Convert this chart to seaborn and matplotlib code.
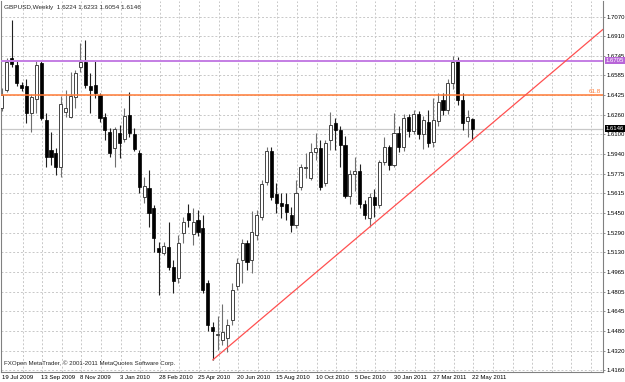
import numpy as np
import pandas as pd
import matplotlib
matplotlib.use('Agg')
import matplotlib.pyplot as plt
import seaborn as sns
from matplotlib.transforms import blended_transform_factory

# weekly GBPUSD candles, 19 Jul 2009 .. 22 May 2011
opens = [1.6320, 1.6465, 1.6728, 1.6671, 1.6506, 1.6498, 1.6276, 1.6391, 1.6687, 1.6218,
         1.5971, 1.5947, 1.5831, 1.6284, 1.6243, 1.6407, 1.6655, 1.6696, 1.6498, 1.6506,
         1.6424, 1.6243, 1.6120, 1.5988, 1.6111, 1.6062, 1.6259, 1.6103, 1.5947, 1.5585,
         1.5659, 1.5494, 1.5165, 1.5123, 1.5173, 1.5008, 1.4918, 1.5289, 1.5453, 1.5280,
         1.5395, 1.5330, 1.4877, 1.4514, 1.4450, 1.4407, 1.4424, 1.4572, 1.4852, 1.5066,
         1.5206, 1.5066, 1.5272, 1.5420, 1.5708, 1.5963, 1.5609, 1.5535, 1.5527, 1.5437,
         1.5354, 1.5667, 1.5825, 1.5741, 1.5955, 1.5988, 1.5700, 1.6054, 1.6193, 1.6136,
         1.6010, 1.5590, 1.5770, 1.5800, 1.5530, 1.5412, 1.5585, 1.5519, 1.5872, 1.5996,
         1.5848, 1.6111, 1.6000, 1.6240, 1.6130, 1.6270, 1.6100, 1.6200, 1.6040, 1.6210,
         1.6383, 1.6300, 1.6523, 1.6712, 1.6383, 1.6210, 1.6224]
highs = [1.6480, 1.6728, 1.7041, 1.6700, 1.6530, 1.6560, 1.6430, 1.6700, 1.6704, 1.6276,
         1.6120, 1.5988, 1.6420, 1.6465, 1.6613, 1.6630, 1.6852, 1.6877, 1.6605, 1.6700,
         1.6440, 1.6276, 1.6153, 1.6161, 1.6177, 1.6317, 1.6449, 1.6152, 1.5971, 1.5749,
         1.5807, 1.5519, 1.5214, 1.5214, 1.5379, 1.5066, 1.5272, 1.5420, 1.5527, 1.5494,
         1.5478, 1.5437, 1.4900, 1.4556, 1.4605, 1.4700, 1.4580, 1.4877, 1.5082, 1.5239,
         1.5231, 1.5469, 1.5478, 1.5724, 1.5996, 1.5996, 1.5700, 1.5617, 1.5617, 1.5502,
         1.5724, 1.5856, 1.5947, 1.6029, 1.6111, 1.6054, 1.6054, 1.6284, 1.6235, 1.6170,
         1.6090, 1.5810, 1.5910, 1.5860, 1.5560, 1.5620, 1.5650, 1.5889, 1.6078, 1.6012,
         1.6276, 1.6170, 1.6270, 1.6270, 1.6300, 1.6290, 1.6250, 1.6300, 1.6400, 1.6440,
         1.6440, 1.6560, 1.6746, 1.6740, 1.6440, 1.6300, 1.6233]
lows = [1.6290, 1.6449, 1.6655, 1.6500, 1.6460, 1.6193, 1.6120, 1.6280, 1.6218, 1.5831,
        1.5848, 1.5766, 1.5750, 1.6243, 1.6235, 1.6317, 1.6613, 1.6482, 1.6276, 1.6400,
        1.6202, 1.6054, 1.5914, 1.5831, 1.5906, 1.6037, 1.6078, 1.5963, 1.5617, 1.5535,
        1.5338, 1.5132, 1.4778, 1.5107, 1.4984, 1.4794, 1.4877, 1.5206, 1.5338, 1.5190,
        1.5264, 1.4794, 1.4480, 1.4243, 1.4325, 1.4366, 1.4308, 1.4531, 1.4819, 1.4877,
        1.4984, 1.4959, 1.5231, 1.5395, 1.5683, 1.5560, 1.5453, 1.5412, 1.5395, 1.5297,
        1.5330, 1.5642, 1.5741, 1.5724, 1.5889, 1.5642, 1.5675, 1.5971, 1.5971, 1.5830,
        1.5580, 1.5530, 1.5630, 1.5490, 1.5400, 1.5338, 1.5420, 1.5494, 1.5848, 1.5807,
        1.5830, 1.5955, 1.5960, 1.6080, 1.6100, 1.6060, 1.5980, 1.6000, 1.6000, 1.6170,
        1.6260, 1.6270, 1.6470, 1.6340, 1.6136, 1.6078, 1.6054]
closes = [1.6424, 1.6696, 1.6680, 1.6523, 1.6482, 1.6276, 1.6407, 1.6671, 1.6235, 1.5914,
          1.5914, 1.5831, 1.6350, 1.6317, 1.6416, 1.6605, 1.6696, 1.6506, 1.6465, 1.6440,
          1.6235, 1.6136, 1.5947, 1.6144, 1.6029, 1.6251, 1.6111, 1.5980, 1.5667, 1.5675,
          1.5453, 1.5247, 1.5132, 1.5181, 1.5008, 1.4893, 1.5206, 1.5379, 1.5395, 1.5379,
          1.5297, 1.4819, 1.4531, 1.4481, 1.4460, 1.4473, 1.4531, 1.4819, 1.5041, 1.5206,
          1.5049, 1.5297, 1.5437, 1.5692, 1.5963, 1.5585, 1.5535, 1.5510, 1.5461, 1.5354,
          1.5617, 1.5831, 1.5831, 1.5955, 1.5988, 1.5667, 1.6029, 1.6177, 1.6136, 1.6010,
          1.5590, 1.5770, 1.5800, 1.5530, 1.5437, 1.5585, 1.5519, 1.5872, 1.5996, 1.5848,
          1.6111, 1.6000, 1.6235, 1.6130, 1.6270, 1.6100, 1.6220, 1.6030, 1.6218, 1.6366,
          1.6300, 1.6523, 1.6696, 1.6383, 1.6193, 1.6243, 1.6146]

date_labels = ['19 Jul 2009', '13 Sep 2009', '8 Nov 2009', '3 Jan 2010', '28 Feb 2010',
               '25 Apr 2010', '20 Jun 2010', '15 Aug 2010', '10 Oct 2010', '5 Dec 2010',
               '30 Jan 2011', '27 Mar 2011', '22 May 2011']
price_ticks = [1.7070, 1.6910, 1.6745, 1.6585, 1.6425, 1.6260, 1.6100, 1.5940, 1.5775,
               1.5615, 1.5450, 1.5290, 1.5130, 1.4965, 1.4805, 1.4645, 1.4480, 1.4320, 1.4160]
resistance = 1.6705
fib_618 = 1.6423
trend_from, trend_to = 43, 96   # bars whose lows the trend line joins

df = pd.DataFrame({'open': opens, 'high': highs, 'low': lows, 'close': closes})
df['bar'] = np.arange(len(df))
up = df['close'] >= df['open']

sns.set_style('white')
plt.rcParams['font.family'] = ['Liberation Sans', 'DejaVu Sans']

fig = plt.figure(figsize=(6.25, 3.82), dpi=100)
ax = fig.add_axes([1 / 625, 10 / 382, 602 / 625, 371 / 382])
ax.set_xlim(-0.2, 122.65)
ax.set_ylim(1.4144, 1.7198)

# dashed grid
grid_kw = dict(color='#c8c8c8', lw=0.7, linestyles=(0, (2, 2)), zorder=1)
ax.hlines(price_ticks, -0.2, 122.65, **grid_kw)
ax.vlines(np.arange(4, 123, 4) + 0.2, 1.4144, 1.7198, **grid_kw)

# bid line
ax.axhline(closes[-1], color='#c8c8c8', lw=0.9, zorder=2)

# candles
ax.vlines(df['bar'][up], df['low'][up], df['high'][up], color='#707070', lw=0.8, zorder=3)
ax.vlines(df['bar'][~up], df['low'][~up], df['high'][~up], color='#202020', lw=0.8, zorder=3)
ax.bar(df['bar'][up], (df['close'] - df['open'])[up], bottom=df['open'][up], width=0.62,
       color='white', edgecolor='#444444', linewidth=0.7, zorder=4)
ax.bar(df['bar'][~up], (df['open'] - df['close'])[~up], bottom=df['close'][~up], width=0.62,
       color='black', edgecolor='black', linewidth=0.5, zorder=4)

# horizontal levels
ax.axhline(resistance, color='#c47ee4', lw=1.4, zorder=5)
ax.axhline(fib_618, color='#ff7a36', lw=1.1, zorder=5)
ax.text(0.997, fib_618 + 0.0008, '61.8', transform=blended_transform_factory(ax.transAxes, ax.transData),
        ha='right', va='bottom', fontsize=4.5, color='#ff7a36', zorder=6)

# trend line through the two lows, extended to the right edge
slope = (lows[trend_to] - lows[trend_from]) / (trend_to - trend_from)
x_end = ax.get_xlim()[1]
trend = pd.DataFrame({'x': [trend_from, x_end],
                      'y': [lows[trend_from], lows[trend_from] + slope * (x_end - trend_from)]})
sns.lineplot(data=trend, x='x', y='y', ax=ax, color='#ff5050', lw=0.9, zorder=6)

# axes
ax.yaxis.tick_right()
ax.set_yticks(price_ticks)
ax.set_yticklabels([f'{v:.4f}' for v in price_ticks])
ax.set_xticks(np.arange(0, len(df), 8))
ax.set_xticklabels(date_labels, ha='left')
ax.tick_params(axis='both', labelsize=4.3, length=1.5, width=0.6, color='#808080',
               labelcolor='black', pad=0.8)
ax.set_xlabel('')
ax.set_ylabel('')
for side in ['left', 'right', 'bottom']:
    ax.spines[side].set_color('#808080')
    ax.spines[side].set_linewidth(0.8)
ax.spines['top'].set_visible(False)

# price boxes on the scale
trans = blended_transform_factory(ax.transAxes, ax.transData)
for level, face in [(resistance, '#b865d8'), (closes[-1], 'black')]:
    ax.text(1.004, level, f'{level:.4f}', transform=trans, ha='left', va='center',
            fontsize=4.3, color='white', clip_on=False, zorder=10,
            bbox=dict(boxstyle='square,pad=0.15', fc=face, ec='none'))

fig.text(4 / 625, 1 - 8 / 382,
         f'GBPUSD,Weekly  {opens[-1]:.4f} {highs[-1]:.4f} {lows[-1]:.4f} {closes[-1]:.4f}',
         fontsize=4.6, va='center', ha='left')
fig.text(4 / 625, 1 - 363 / 382, 'FXOpen MetaTrader, © 2001-2011 MetaQuotes Software Corp.',
         fontsize=4.4, va='center', ha='left')

fig.savefig('out.png', dpi=100)
